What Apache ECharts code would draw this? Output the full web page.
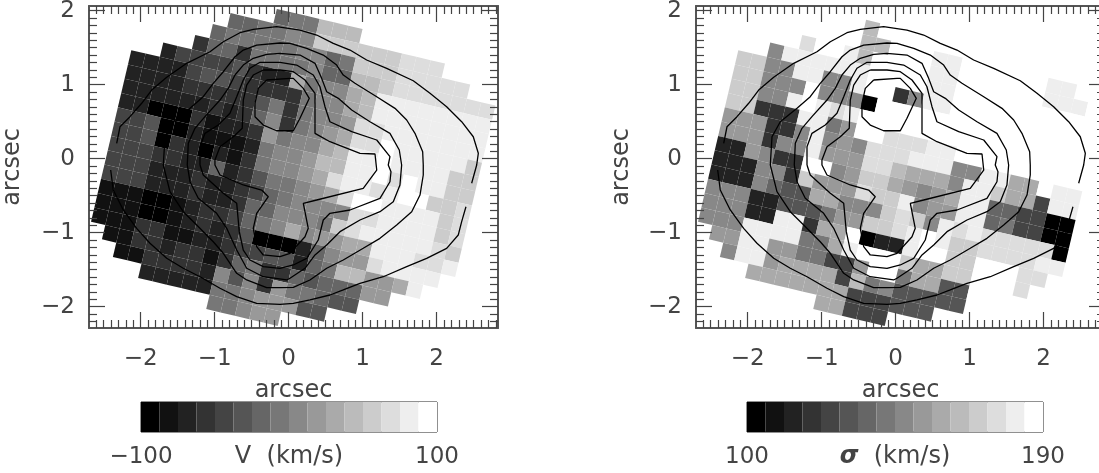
<!DOCTYPE html>
<html><head><meta charset="utf-8">
<style>html,body{margin:0;padding:0;background:#fff;overflow:hidden}#c{width:1099px;height:473px}</style>
<script src="https://cdn.jsdelivr.net/npm/echarts@6/dist/echarts.min.js"></script>
</head><body><div id="c"></div>
<script>
// Gray level (0=black .. f=white) of each lenslet, top row first; '.' = no data.
const velocityRows = [
'.........677bbb..........',
'......667788ccccccddd....',
'.....6777778867cccddddd..',
'....36637777866bbcddddddd',
'..244445322a788abeeeeeeee',
'222245543333788abeeeeeeee',
'2222333335737889ddeeeeeee',
'222222323683789addfeeeeec',
'22000312239788abeefeeeecc',
'44500211127889bbeefdfeecc',
'44503202137889adeedeffccd',
'444332262357789adffeeeecd',
'44422232234678888ddeeeecd',
'4442223223668887cdeeeeedc',
'1110012334678a899aaeeedde',
'1110012323500026899deeee.',
'11133112234455267bb99ae..',
'.11332331367336566699....',
'..11333328583977655......',
'....2222277899955........',
'.........77899...........'
];
const dispersionRows = [
'.........ffffff..........',
'......ffbffffffffffff....',
'.....fffbbfffeeffffffee..',
'....dffebffffeeffffffeeef',
'..8eeeeeeffffeeffffffffff',
'cc88ee88eff38eeffffffffff',
'cc888f8880fffffffffffffff',
'cc88efedeffffffffffffffff',
'cc333ee79ffdddeefffffffff',
'999338e898dddeee88eeaafee',
'999388e999ddbaaa8eecaa4ee',
'229833ff89cca989aee664400',
'222883c999dcce899ee674400',
'2228655aa888cdc8ededdddd0',
'88822555799ccdefeccddddee',
'88822ee3aaf022effccfffdd.',
'888eeee77aefffcaaccfffd..',
'.99ee9977449ff7aa55ff....',
'..8ee9aaaa4b7855555......',
'....aaaaaaa444555........',
'.........aa444...........'
];
const barLevels = ['0','1','2','3','4','5','6','7','8','9','a','b','c','d','e','f'];
const majorTicks = [-2,-1,0,1,2];
const velocityRange = [-100,100];
const dispersionRange = [100,190];

// Isophote contours, arcsec (same image on both panels)
const isoAupper=[[-2.323,.208],[-2.278,.432],[-2.143,.568],[-1.985,.749],[-1.85,.928],[-1.647,1.1],[-1.377,1.289],[-1.062,1.446],[-.882,1.581],[-.657,1.703],[-.477,1.749],[-.161,1.784],[.154,1.739],[.38,1.672],[.604,1.559],[.83,1.469],[1.055,1.334],[1.326,1.222],[1.685,1.054],[1.911,.884],[2.136,.703],[2.339,.5],[2.496,.297],[2.564,.073],[2.542,-.085],[2.474,-.332]];
const isoAlower=[[2.397,-.649],[2.339,-.851],[2.293,-1.031],[2.136,-1.211],[1.866,-1.346],[1.596,-1.459],[1.28,-1.595],[.965,-1.684],[.739,-1.774],[.559,-1.842],[.289,-1.909],[.064,-1.954],[-.116,-1.968],[-.431,-1.954],[-.701,-1.865],[-.927,-1.751],[-1.197,-1.595],[-1.423,-1.481],[-1.647,-1.346],[-1.873,-1.143],[-2.053,-.941],[-2.234,-.693],[-2.369,-.423],[-2.404,-.153]];
const isoB=[[-1.693,-.085],[-1.603,-.446],[-1.423,-.716],[-1.242,-.896],[-1.018,-1.122],[-.882,-1.278],[-.701,-1.549],[-.566,-1.639],[-.296,-1.743],[-.116,-1.743],[.064,-1.738],[.289,-1.639],[.515,-1.481],[.739,-1.369],[1.009,-1.211],[1.235,-1.076],[1.461,-.896],[1.664,-.716],[1.776,-.491],[1.82,-.22],[1.82,-.085],[1.812,.095],[1.708,.343],[1.596,.523],[1.438,.681],[1.191,.838],[.897,1.019],[.739,1.131],[.65,1.266],[.469,1.401],[.245,1.492],[.019,1.559],[-.116,1.564],[-.431,1.536],[-.612,1.469],[-.724,1.378],[-.882,1.176],[-1.018,1.019],[-1.153,.838],[-1.332,.681],[-1.558,.5],[-1.67,.297],[-1.693,-.085]];
const isoC=[[-1.369,-.085],[-1.332,-.311],[-1.22,-.535],[-.972,-.738],[-.836,-.941],[-.701,-1.234],[-.566,-1.481],[-.342,-1.595],[-.026,-1.639],[.019,-1.616],[.222,-1.481],[.357,-1.301],[.515,-1.166],[.695,-.986],[.965,-.828],[1.235,-.716],[1.415,-.581],[1.505,-.355],[1.528,-.085],[1.496,.118],[1.37,.343],[1.1,.5],[.853,.658],[.672,.816],[.515,.905],[.447,1.086],[.357,1.289],[.154,1.401],[-.116,1.424],[-.296,1.411],[-.477,1.357],[-.612,1.266],[-.724,1.131],[-.815,.951],[-.927,.793],[-1.13,.568],[-1.265,.411],[-1.355,.208],[-1.369,-.085]];
const isoD=[[-1.197,-.085],[-1.153,-.22],[-.882,-.468],[-.701,-.603],[-.666,-.986],[-.612,-1.234],[-.522,-1.369],[-.342,-1.459],[-.116,-1.481],[.064,-1.436],[.245,-1.346],[.401,-1.099],[.469,-.828],[.559,-.738],[.83,-.693],[1.235,-.535],[1.37,-.311],[1.384,-.176],[1.347,-.085],[1.37,.027],[1.191,.253],[.853,.365],[.559,.5],[.492,.703],[.424,.973],[.334,1.131],[.109,1.266],[-.116,1.303],[-.386,1.303],[-.522,1.222],[-.612,1.064],[-.701,.838],[-.792,.614],[-.95,.455],[-1.13,.343],[-1.197,.162],[-1.197,-.085]];
const isoE=[[-.342,1.199],[-.116,1.199],[.064,1.176],[.222,1.064],[.357,.884],[.357,.343],[.559,.23],[.965,.073],[1.168,.064],[1.191,-.153],[1.009,-.4],[.38,-.558],[.199,-.603],[.266,-.941],[.222,-1.054],[.019,-1.278],[-.116,-1.324],[-.342,-1.301],[-.431,-1.189],[-.477,-.941],[-.431,-.738],[-.274,-.514],[-.364,-.423],[-.612,-.355],[-.927,-.22],[-.995,-.085],[-.995,-.018],[-.927,.162],[-.747,.297],[-.626,.411],[-.612,.793],[-.566,.996],[-.477,1.131],[-.342,1.199]];
const isoF=[[-.296,1.064],[.019,1.086],[.064,1.086],[.199,.951],[.28,.816],[.154,.546],[.064,.378],[-.161,.378],[-.342,.455],[-.454,.568],[-.454,.749],[-.409,.951],[-.296,1.064]];
const contours=[isoAupper,isoAlower,isoB,isoC,isoD,isoE,isoF];

// Geometry of the tilted lenslet lattice, arcsec
const latOrigin=[-2.670,-0.851], stepU=[.1932,-.0454], stepV=[.0454,.1932], topRow=16;
const xRange=[-2.697,2.83], yRange=[-2.288,2.064];
const FONT='"DejaVu Sans"', INK='#444', FS=23, FSNAME=24;

const gray=l=>{const g=parseInt(l,16)*17;return `rgb(${g},${g},${g})`;};
function minorTicks(lo,hi){const a=[];for(let i=Math.ceil(lo*10);i<=Math.floor(hi*10);i++){if(i%10)a.push(i/10);}return a;}
const cells=rows=>{const o=[];rows.forEach((s,i)=>[...s].forEach((ch,c)=>{if(ch!=='.')o.push([c,topRow-i,parseInt(ch,16)]);}));return o;};
const minusFmt=v=>(v<0?'\u2212'+Math.abs(v):String(v));

function renderCell(p,api){
  const c=api.value(0),r=api.value(1),l=api.value(2);
  const at=(a,b)=>api.coord([latOrigin[0]+a*stepU[0]+b*stepV[0],latOrigin[1]+a*stepU[1]+b*stepV[1]]);
  return {type:'polygon',shape:{points:[at(c,r),at(c+1,r),at(c+1,r+1),at(c,r+1)]},style:{fill:gray(l.toString(16))}};
}
const grids=[],xAxes=[],yAxes=[],series=[];
function panel(left,rows,nameGapY){
  const gi=grids.length;
  grids.push({left:left,top:6,width:409,height:322,outerBoundsMode:'none'});
  const xi=xAxes.length,yi=yAxes.length;
  const line={show:true,onZero:false,lineStyle:{color:'#555',width:2}};
  const tickS={color:INK,width:1.2};
  const mk=(extra,pos,major,range)=>Object.assign({type:'value',gridIndex:gi,position:pos,min:range[0],max:range[1],splitLine:{show:false},minorTick:{show:false},z:10,
      axisLine:major?line:{show:false,onZero:false},
      axisTick:{show:true,inside:true,length:major?16:8,lineStyle:tickS,customValues:major?majorTicks:minorTicks(range[0],range[1])},
      axisLabel:{show:false}},extra);
  const lab={axisLabel:{show:true,customValues:majorTicks,formatter:minusFmt,fontFamily:FONT,fontSize:FS,color:INK,margin:20}};
  const nm=g=>({name:'arcsec',nameLocation:'middle',nameGap:g,nameMoveOverlap:false,nameTextStyle:{fontFamily:FONT,fontSize:FSNAME,color:INK}});
  xAxes.push(mk(Object.assign({},lab,nm(51)),'bottom',true,xRange),mk({},'bottom',false,xRange),mk({},'top',true,xRange),mk({},'top',false,xRange));
  const labY={axisLabel:Object.assign({},lab.axisLabel,{margin:14})};
  yAxes.push(mk(Object.assign({},labY,nm(nameGapY)),'left',true,yRange),mk({},'left',false,yRange),mk({},'right',true,yRange),mk({},'right',false,yRange));
  series.push({type:'custom',coordinateSystem:'cartesian2d',xAxisIndex:xi,yAxisIndex:yi,data:cells(rows),renderItem:renderCell,silent:true,z:2,encode:{x:0,y:1}});
  contours.forEach(path=>series.push({type:'line',xAxisIndex:xi,yAxisIndex:yi,data:path,symbol:'none',silent:true,z:5,smooth:false,lineStyle:{color:'#000',width:1.3}}));
}
function colorBar(left,range,name){
  const gi=grids.length;
  grids.push({left:left,top:402,width:296,height:30,show:true,borderColor:'#222',borderWidth:1,backgroundColor:'#fff',outerBoundsMode:'none'});
  const xi=xAxes.length,yi=yAxes.length;
  xAxes.push({type:'value',gridIndex:gi,position:'bottom',min:range[0],max:range[1],axisLine:{show:false,onZero:false},axisTick:{show:false},splitLine:{show:false},
    axisLabel:{show:true,customValues:range,formatter:minusFmt,fontFamily:FONT,fontSize:FS,color:INK,margin:14},
    name:name,nameLocation:'middle',nameGap:13,nameMoveOverlap:false,nameTextStyle:{fontFamily:FONT,fontSize:FSNAME,color:INK,rich:{s:{fontFamily:FONT,fontSize:FSNAME,fontStyle:'italic',fontWeight:'bold',color:INK}}}});
  yAxes.push({type:'value',gridIndex:gi,min:0,max:1,show:false});
  const st=(range[1]-range[0])/barLevels.length;
  series.push({type:'custom',coordinateSystem:'cartesian2d',xAxisIndex:xi,yAxisIndex:yi,silent:true,z:2,
    data:barLevels.map((l,i)=>[range[0]+i*st,range[0]+(i+1)*st,parseInt(l,16)]),encode:{x:[0,1]},
    renderItem:(p,api)=>{const a=api.coord([api.value(0),0]),b=api.coord([api.value(1),1]);
      return {type:'rect',shape:{x:a[0],y:b[1],width:b[0]-a[0],height:a[1]-b[1]},style:{fill:gray(api.value(2).toString(16))}};}});
}
panel(89,velocityRows,64);
panel(696,dispersionRows,62);
colorBar(141,velocityRange,'V  (km/s)');
colorBar(747,dispersionRange,'{s|\u03c3}  (km/s)');
const chart=echarts.init(document.getElementById('c'),null,{renderer:'canvas',width:1099,height:473});
chart.setOption({animation:false,backgroundColor:'#fff',grid:grids,xAxis:xAxes,yAxis:yAxes,series:series});
</script></body></html>
